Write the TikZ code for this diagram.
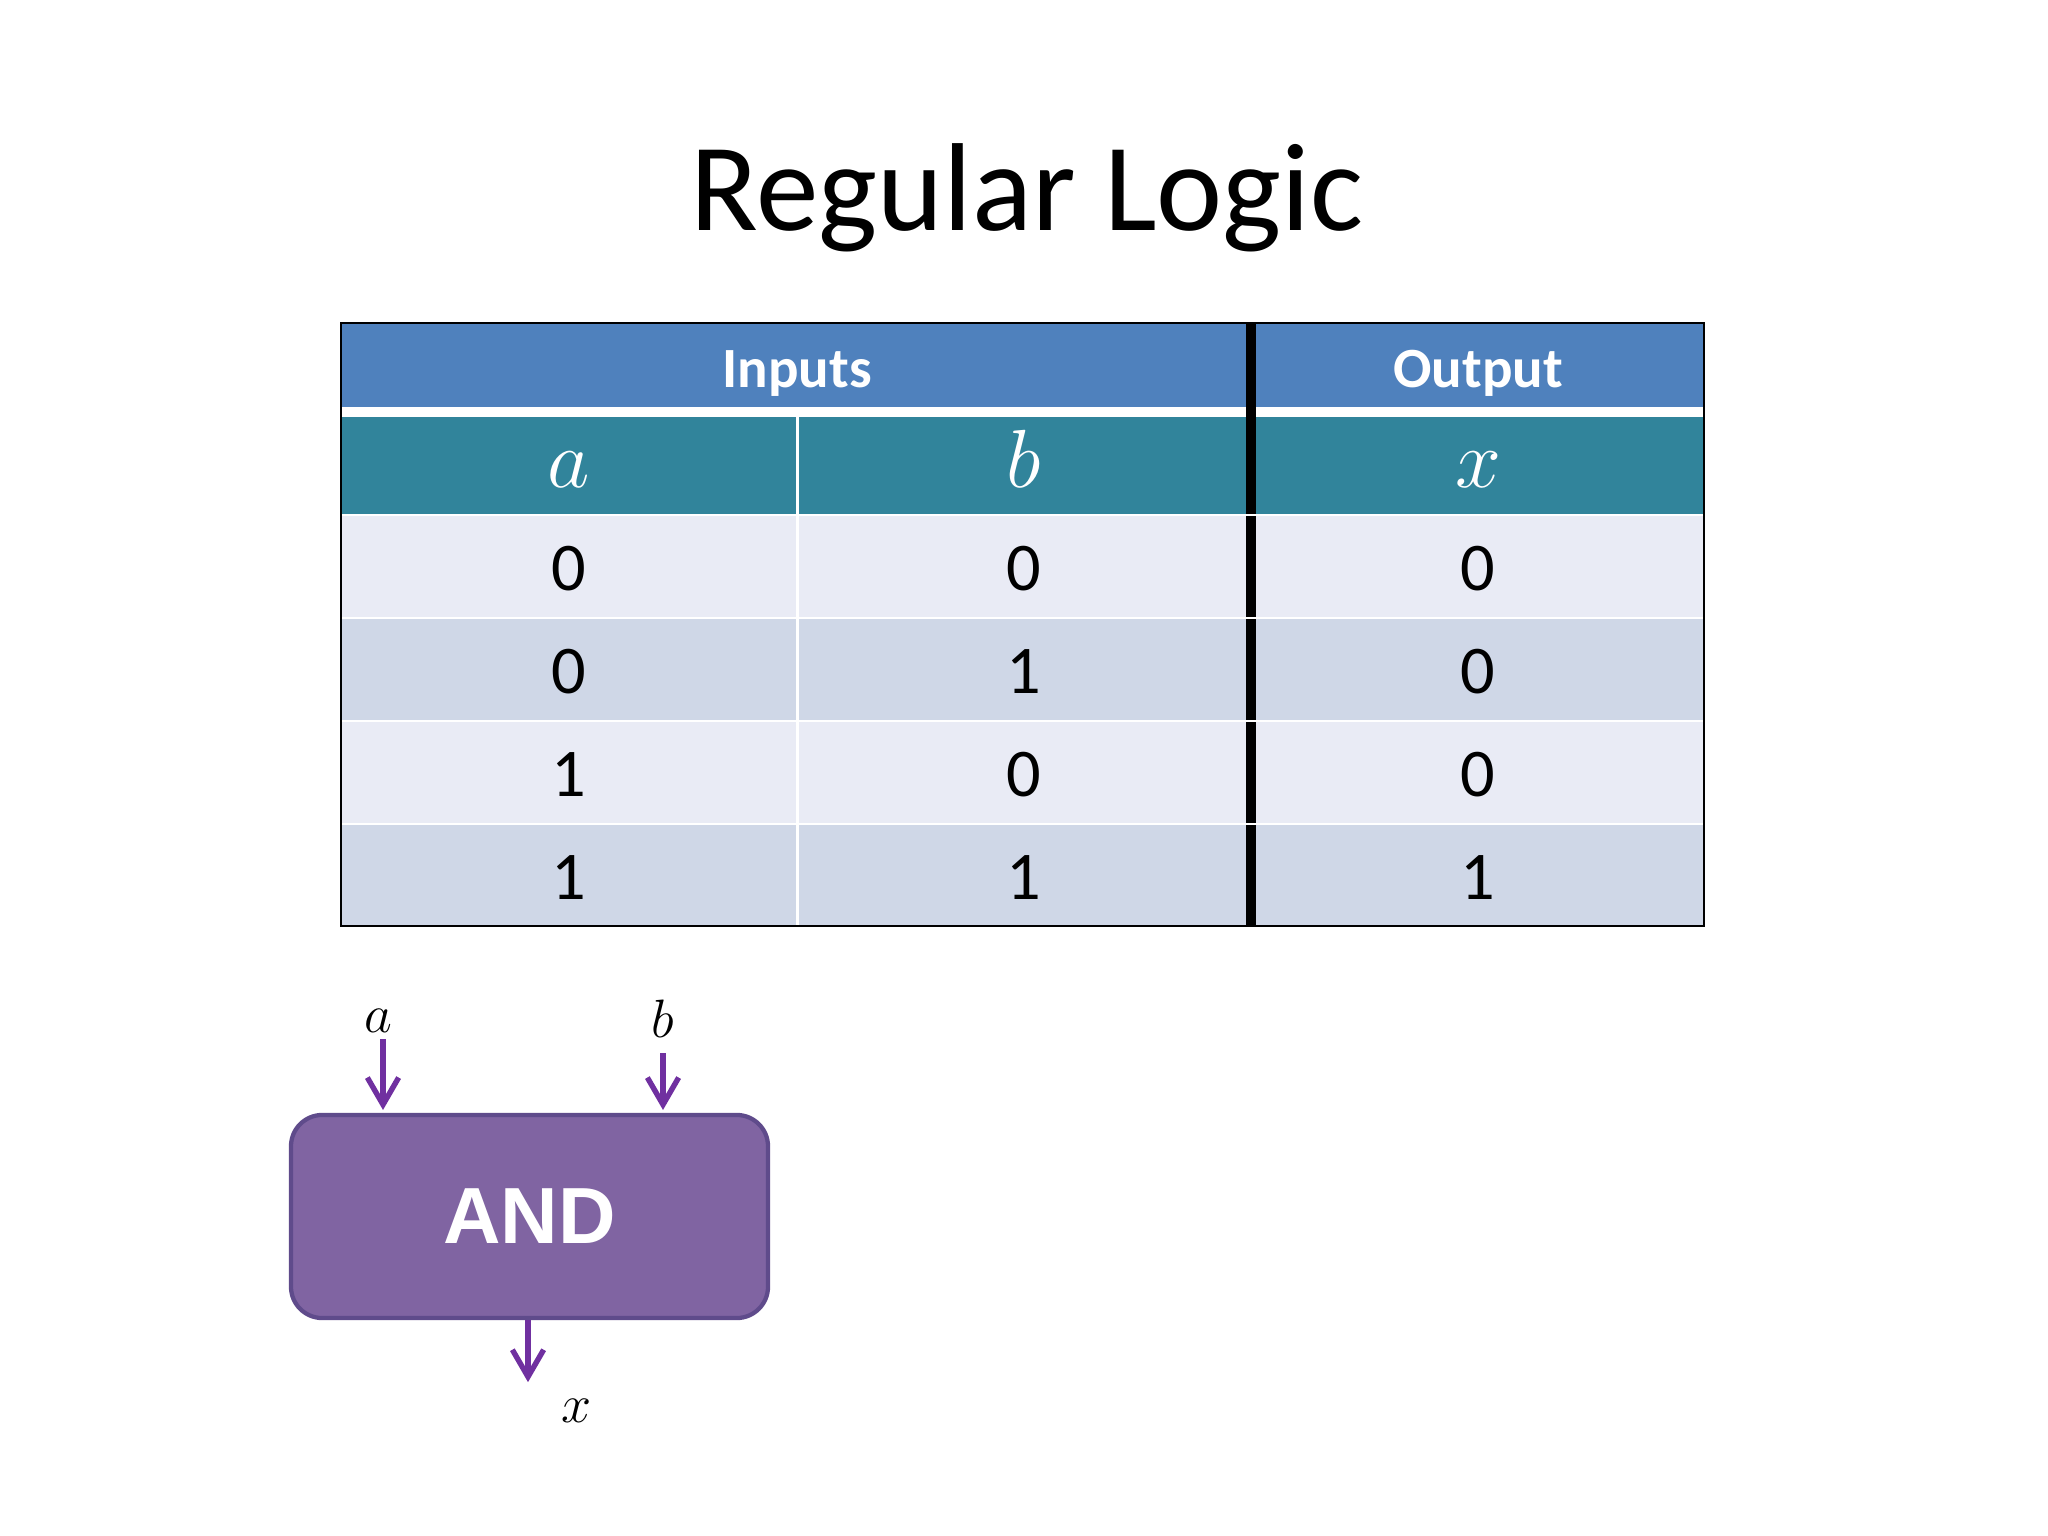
\RequirePackage{fix-cm}
\documentclass[tikz,border=0pt]{standalone}
\usepackage{fontspec}
\setmainfont{Carlito}
\newfontfamily\gatefont{Liberation Sans}
\usetikzlibrary{arrows.meta}
\definecolor{hdrblue}{HTML}{4F81BD}
\definecolor{hdrteal}{HTML}{31849B}
\definecolor{rowlight}{HTML}{E9EBF5}
\definecolor{rowdark}{HTML}{CFD7E7}
\definecolor{gatefill}{HTML}{8064A2}
\definecolor{gateline}{HTML}{5F4B8B}
\definecolor{wire}{HTML}{7030A0}
\tikzset{
  wirearrow/.style={draw=wire, line width=1.9pt, shorten >=1pt,
    -{Straight Barb[length=9.5pt,width=11pt]}},
  cell/.style={anchor=base, font=\fontsize{24}{28}\selectfont},
  headcell/.style={anchor=base, text=white, font=\bfseries\fontsize{20}{24}\selectfont},
  varcell/.style={anchor=base, text=white, font=\fontsize{29}{33}\selectfont},
  varlabel/.style={anchor=base, font=\fontsize{19}{23}\selectfont},
}
\begin{document}
\begin{tikzpicture}[x=0.3515625pt, y=-0.3515625pt]
\useasboundingbox (0,0) rectangle (2048,1536);
\node[anchor=base, font=\fontsize{44}{52}\selectfont] (title) at (1027,231) {Regular Logic};
% truth table
\fill[hdrblue] (341,323) rectangle (1704,412);
\fill[hdrteal] (341,412) rectangle (1704,515);
\foreach \r/\shade in {0/rowlight,1/rowdark,2/rowlight,3/rowdark}
  \fill[\shade] (341,515+103*\r) rectangle (1704,618+103*\r);
\draw[white, line width=3.2pt] (341,412) -- (1704,412);
\draw[white, line width=1.05pt] (797,412) -- (797,926);
\draw[line width=3.2pt] (1251,323) -- (1251,926);
\foreach \r in {0,1,2,3}
  \draw[white, line width=1.05pt] (341,515+103*\r) -- (1704,515+103*\r);
\draw[line width=0.8pt] (341,323) rectangle (1704,926);
\node[headcell] (inputs) at (797,388) {Inputs};
\node[headcell] (output) at (1478,388) {Output};
\node[varcell] (cola) at (569,488) {$a$};
\node[varcell] (colb) at (1024,488) {$b$};
\node[varcell] (colx) at (1478,488) {$x$};
\foreach \r/\va/\vb/\vx in {0/0/0/0,1/0/1/0,2/1/0/0,3/1/1/1}{
  \node[cell] (a\r) at (569,590+103*\r) {\va};
  \node[cell] (b\r) at (1024,590+103*\r) {\vb};
  \node[cell] (x\r) at (1478,590+103*\r) {\vx};
}
% AND gate
\node[draw=gateline, fill=gatefill, line width=1.5pt, rounded corners=11pt,
  minimum width=167.7pt, minimum height=71.4pt, text=white,
  font=\gatefont\bfseries\fontsize{28}{34}\selectfont] (andgate) at (529.5,1216.5) {AND};
\coordinate (ina) at (383,1039);
\coordinate (inb) at (663,1053);
\coordinate (outx) at (528,1385);
\draw[wirearrow] (ina) -- (ina |- andgate.north);
\draw[wirearrow] (inb) -- (inb |- andgate.north);
\draw[wirearrow] (andgate.south -| outx) -- (outx);
\node[varlabel] (lbla) at (378,1032) {$a$};
\node[varlabel] (lblb) at (663,1037) {$b$};
\node[varlabel] (lblx) at (577,1422) {$x$};
\end{tikzpicture}
\end{document}
